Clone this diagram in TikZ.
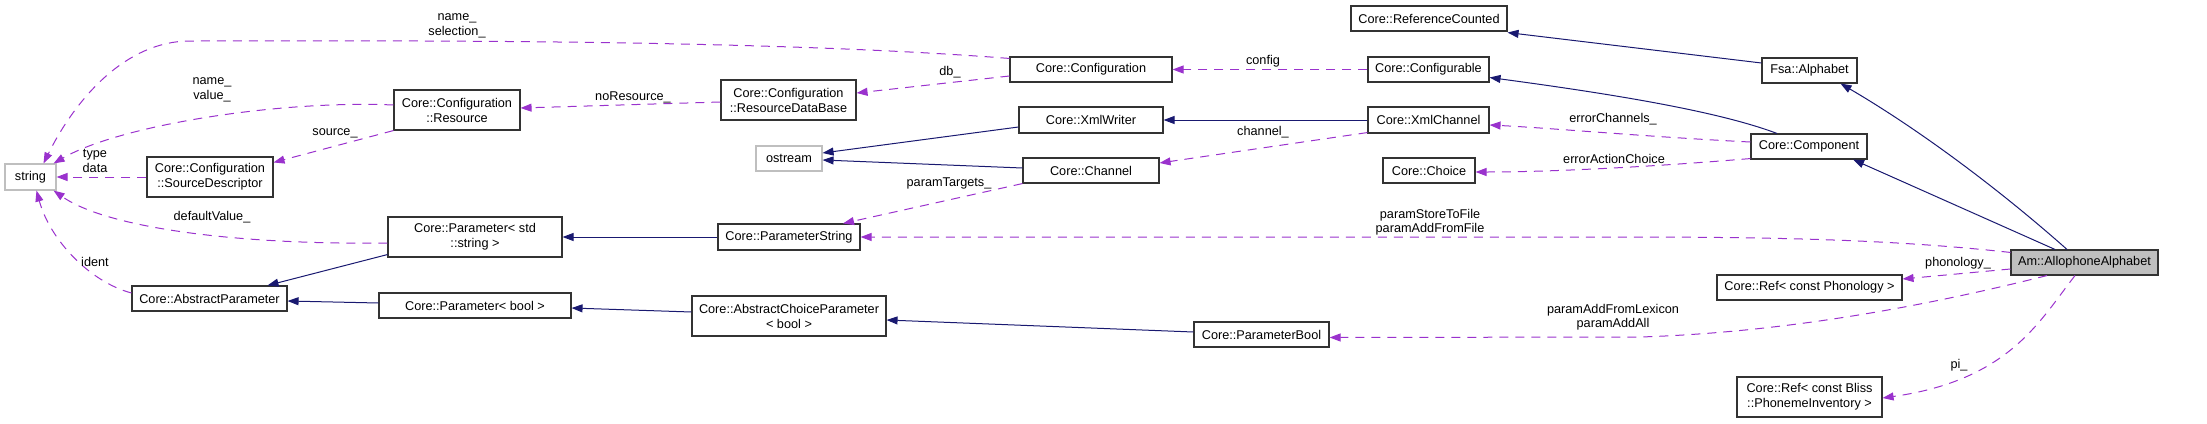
\documentclass[tikz,border=0pt]{standalone}
\usepackage{fontspec}
\setmainfont{Liberation Sans}
\usetikzlibrary{arrows.meta,calc}
\definecolor{navy}{HTML}{191970}
\definecolor{orchid}{HTML}{9A32CD}
\begin{document}
\begin{tikzpicture}[x=1pt,y=-1pt,
 box/.style={draw=black!80,line width=1.1pt,fill=white,inner sep=0pt,font=\fontsize{12.7}{15}\selectfont,align=center},
 gbox/.style={box,draw=black!25},
 inh/.style={draw=navy,line width=1pt,-{Triangle[length=11pt,width=8pt]}},
 use/.style={draw=orchid,line width=1pt,dash pattern=on 9pt off 7pt,-{Triangle[length=11pt,width=8pt]}},
 lbl/.style={font=\fontsize{12.7}{14.5}\selectfont,align=center,inner sep=0pt}]
\useasboundingbox (0,0) rectangle (2207,423);
% nodes
\node[gbox,minimum width=51pt,minimum height=26pt] (str) at (30.5,177) {string};
\node[box,minimum width=126pt,minimum height=40pt] (srcdesc) at (210,177) {Core::Configuration\\::SourceDescriptor};
\node[box,minimum width=126pt,minimum height=40pt] (res) at (457,110) {Core::Configuration\\::Resource};
\node[box,minimum width=135pt,minimum height=40pt] (rdb) at (788.5,100) {Core::Configuration\\::ResourceDataBase};
\node[gbox,minimum width=66pt,minimum height=25pt] (ostream) at (789,158.5) {ostream};
\node[box,minimum width=162pt,minimum height=25pt] (conf) at (1091,69.5) {Core::Configuration};
\node[box,minimum width=144pt,minimum height=26pt] (xmlw) at (1091,120) {Core::XmlWriter};
\node[box,minimum width=136pt,minimum height=25pt] (chan) at (1091,170.5) {Core::Channel};
\node[box,minimum width=174pt,minimum height=40pt] (pstd) at (475,237) {Core::Parameter< std\\::string >};
\node[box,minimum width=155pt,minimum height=25pt] (abs) at (209.5,298.5) {Core::AbstractParameter};
\node[box,minimum width=192pt,minimum height=25pt] (pbool) at (475,305.5) {Core::Parameter< bool >};
\node[box,minimum width=142pt,minimum height=26pt] (pstr) at (789,237) {Core::ParameterString};
\node[box,minimum width=194pt,minimum height=40pt] (acp) at (789,316) {Core::AbstractChoiceParameter\\< bool >};
\node[box,minimum width=156pt,minimum height=25pt] (refc) at (1429,18.5) {Core::ReferenceCounted};
\node[box,minimum width=121pt,minimum height=25pt] (cfgbl) at (1428.5,69.5) {Core::Configurable};
\node[box,minimum width=121pt,minimum height=26pt] (xmlc) at (1428.5,120) {Core::XmlChannel};
\node[box,minimum width=92pt,minimum height=25pt] (choice) at (1429,170.5) {Core::Choice};
\node[box,minimum width=135pt,minimum height=25pt] (parb) at (1261.5,334.5) {Core::ParameterBool};
\node[box,minimum width=95pt,minimum height=25pt] (alpha) at (1809.5,70.5) {Fsa::Alphabet};
\node[box,minimum width=116pt,minimum height=25pt] (comp) at (1809,146.5) {Core::Component};
\node[box,fill=black!25,minimum width=147pt,minimum height=25pt] (aa) at (2084.5,262.5) {Am::AllophoneAlphabet};
\node[box,minimum width=185pt,minimum height=25pt] (refph) at (1809.5,287.5) {Core::Ref< const Phonology >};
\node[box,minimum width=145pt,minimum height=40pt] (refpi) at (1809.5,397) {Core::Ref< const Bliss\\::PhonemeInventory >};
% usage edges
\draw[use] ($(conf.north west)+(0,2)$) .. controls (750,38) and (350,41) .. (190,41) .. controls (125,41) and (75,100) .. ($(str.north)+(13,0)$);
\node[lbl] (l1) at (457,26) {name\_\\selection\_};
\draw[use] ($(res.west)+(0,-5)$) .. controls (280,100) and (120,125) .. ($(str.north east)+(-3,0)$);
\node[lbl] (l2) at (212,90) {name\_\\value\_};
\draw[use] (srcdesc.west) -- (str.east);
\node[lbl] (l3) at (95,161) {type\\data};
\draw[use] (res.south west) -- ($(srcdesc.north east)+(0,6)$);
\node[lbl] (l4) at (335,133) {source\_};
\draw[use] ($(rdb.west)+(0,2)$) -- ($(res.east)+(0,-2)$);
\node[lbl] (l5) at (633,97) {noResource\_};
\draw[use] ($(conf.west)+(0,6.5)$) -- ($(rdb.east)+(0,-7)$);
\node[lbl] (l6) at (950,72) {db\_};
\draw[use] (cfgbl.west) -- (conf.east);
\node[lbl] (l7) at (1263,61) {config};
\draw[use] ($(xmlc.south west)+(0,-1)$) -- ($(chan.east)+(0,-7.5)$);
\node[lbl] (l8) at (1263,132) {channel\_};
\draw[use] (chan.south west) -- ($(pstr.north)+(54,0)$);
\node[lbl] (l9) at (949,183) {paramTargets\_};
\draw[use] ($(pstd.west)+(0,6)$) .. controls (250,245) and (110,230) .. ($(str.south east)+(-3,0)$);
\node[lbl] (l10) at (212,217) {defaultValue\_};
\draw[use] ($(abs.west)+(0,-5.5)$) .. controls (90,282) and (50,240) .. ($(str.south)+(6,0)$);
\node[lbl] (l11) at (95,262) {ident};
\draw[use] ($(comp.west)+(0,-4.5)$) .. controls (1650,137) and (1550,128) .. ($(xmlc.east)+(0,5)$);
\node[lbl] (l12) at (1613,119) {errorChannels\_};
\draw[use] ($(comp.south west)+(0,-1)$) .. controls (1650,167) and (1550,172) .. ($(choice.east)+(0,1.5)$);
\node[lbl] (l13) at (1614,159) {errorActionChoice};
\draw[use] ($(aa.north west)+(0,3)$) .. controls (1880,238) and (1750,237) .. (1600,237) -- (pstr.east);
\node[lbl] (l14) at (1430,222) {paramStoreToFile\\paramAddFromFile};
\draw[use] ($(aa.west)+(0,6.5)$) -- ($(refph.east)+(0,-8.5)$);
\node[lbl] (l15) at (1958,263) {phonology\_};
\draw[use] ($(aa.south)+(-37.5,0)$) .. controls (1950,300) and (1800,332) .. (1640,337) -- ($(parb.east)+(0,3)$);
\node[lbl] (l16) at (1613,317) {paramAddFromLexicon\\paramAddAll};
\draw[use] ($(aa.south)+(-9.5,0)$) .. controls (2040,320) and (2010,380) .. ($(refpi.east)+(0,1)$);
\node[lbl] (l17) at (1959,365) {pi\_};
% inheritance edges
\draw[inh] ($(xmlw.west)+(0,7)$) -- ($(ostream.east)+(0,-5.5)$);
\draw[inh] ($(chan.west)+(0,-2.5)$) -- ($(ostream.east)+(0,1.5)$);
\draw[inh] (xmlc.west) -- (xmlw.east);
\draw[inh] (pstr.west) -- (pstd.east);
\draw[inh] ($(pstd.south west)+(0,-3)$) -- ($(abs.north)+(58,0)$);
\draw[inh] ($(pbool.west)+(0,-2.5)$) -- ($(abs.east)+(0,2.5)$);
\draw[inh] ($(acp.west)+(0,-4)$) -- ($(pbool.east)+(0,2.5)$);
\draw[inh] ($(parb.west)+(0,-2.5)$) -- ($(acp.east)+(0,4)$);
\draw[inh] ($(alpha.west)+(0,-7.5)$) -- ($(refc.south east)+(0,1)$);
\draw[inh] ($(comp.north)+(-32,0)$) .. controls (1720,112) and (1620,95) .. ($(cfgbl.east)+(0,8)$);
\draw[inh] ($(aa.north)+(-17.5,0)$) .. controls (2000,190) and (1920,130) .. ($(alpha.south)+(31,0)$);
\draw[inh] ($(aa.north)+(-29.5,0)$) -- ($(comp.south)+(44,0)$);
\end{tikzpicture}
\end{document}
